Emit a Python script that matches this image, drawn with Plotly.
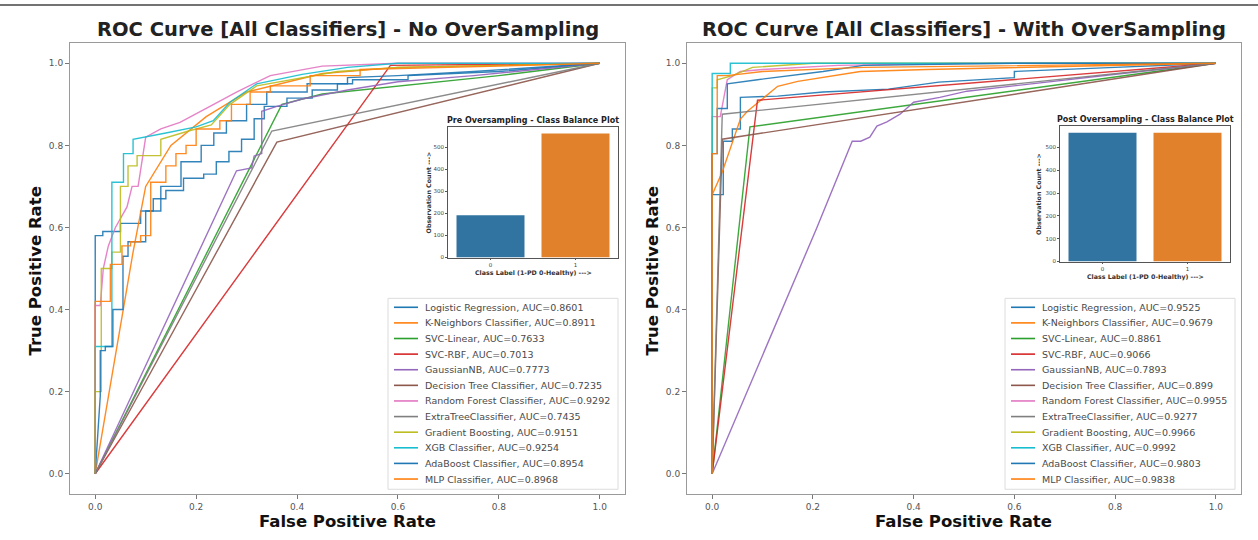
import plotly.graph_objects as go

W, H = 1258, 540

# ---------------- data ----------------
classifiers = ["Logistic Regression", "K-Neighbors Classifier", "SVC-Linear", "SVC-RBF",
               "GaussianNB", "Decision Tree Classifier", "Random Forest Classifier",
               "ExtraTreeClassifier", "Gradient Boosting", "XGB Classifier",
               "AdaBoost Classifier", "MLP Classifier"]
auc_no_os = ["0.8601", "0.8911", "0.7633", "0.7013", "0.7773", "0.7235", "0.9292",
             "0.7435", "0.9151", "0.9254", "0.8954", "0.8968"]
auc_with_os = ["0.9525", "0.9679", "0.8861", "0.9066", "0.7893", "0.899", "0.9955",
               "0.9277", "0.9966", "0.9992", "0.9803", "0.9838"]

# ROC curves - No OverSampling
lr_no_fpr = [0, 0, 0.015, 0.015, 0.05, 0.05, 0.09, 0.09, 0.115, 0.115, 0.14, 0.14, 0.175, 0.175, 0.215, 0.215, 0.24, 0.24, 0.265, 0.265, 0.29, 0.29, 0.315, 0.315, 0.335, 0.335, 0.38, 0.38, 0.43, 0.43, 0.48, 0.48, 0.51, 0.51, 0.62, 0.62, 0.8, 1.0]
lr_no_tpr = [0, 0.58, 0.58, 0.59, 0.59, 0.61, 0.61, 0.64, 0.64, 0.67, 0.67, 0.69, 0.69, 0.72, 0.72, 0.73, 0.73, 0.76, 0.76, 0.785, 0.785, 0.815, 0.815, 0.865, 0.865, 0.895, 0.895, 0.915, 0.915, 0.935, 0.935, 0.95, 0.95, 0.96, 0.96, 0.97, 0.98, 1.0]
knn_no_fpr = [0, 0.075, 0.1, 0.15, 0.22, 0.3, 0.45, 0.6, 1.0]
knn_no_tpr = [0, 0.54, 0.7, 0.8, 0.87, 0.93, 0.975, 0.99, 1.0]
svcl_no_fpr = [0, 0.37, 0.45, 0.6, 0.8, 1.0]
svcl_no_tpr = [0, 0.9, 0.925, 0.945, 0.97, 1.0]
svcr_no_fpr = [0, 0.585, 1.0]
svcr_no_tpr = [0, 0.995, 1.0]
gnb_no_fpr = [0, 0.28, 0.31, 0.315, 0.33, 0.33, 0.36, 0.41, 0.5, 0.6, 0.75, 1.0]
gnb_no_tpr = [0, 0.738, 0.745, 0.774, 0.78, 0.883, 0.895, 0.913, 0.935, 0.955, 0.97, 1.0]
dt_no_fpr = [0, 0.36, 1.0]
dt_no_tpr = [0, 0.808, 1.0]
rf_no_fpr = [0, 0, 0.01, 0.016, 0.026, 0.04, 0.063, 0.073, 0.085, 0.1, 0.13, 0.168, 0.22, 0.28, 0.347, 0.45, 0.6, 1.0]
rf_no_tpr = [0, 0.41, 0.41, 0.5, 0.555, 0.6, 0.65, 0.7, 0.7, 0.82, 0.84, 0.856, 0.89, 0.93, 0.97, 0.993, 1.0, 1.0]
et_no_fpr = [0, 0.35, 1.0]
et_no_tpr = [0, 0.835, 1.0]
gb_no_fpr = [0, 0, 0.012, 0.012, 0.033, 0.033, 0.05, 0.05, 0.065, 0.065, 0.083, 0.083, 0.13, 0.13, 0.185, 0.23, 0.267, 0.32, 0.48, 0.6, 1.0]
gb_no_tpr = [0, 0.2, 0.2, 0.5, 0.5, 0.54, 0.54, 0.7, 0.7, 0.75, 0.75, 0.775, 0.775, 0.815, 0.835, 0.85, 0.9, 0.945, 0.98, 0.99, 1.0]
xgb_no_fpr = [0, 0, 0.033, 0.033, 0.056, 0.056, 0.075, 0.075, 0.14, 0.2, 0.234, 0.267, 0.32, 0.36, 0.41, 0.5, 0.6, 1.0]
xgb_no_tpr = [0, 0.31, 0.31, 0.71, 0.71, 0.78, 0.78, 0.815, 0.83, 0.845, 0.86, 0.905, 0.95, 0.96, 0.973, 0.99, 1.0, 1.0]
ada_no_fpr = [0, 0.01, 0.01, 0.02, 0.02, 0.035, 0.035, 0.055, 0.055, 0.065, 0.065, 0.1, 0.1, 0.13, 0.13, 0.17, 0.17, 0.21, 0.21, 0.235, 0.235, 0.26, 0.26, 0.3, 0.3, 0.34, 0.34, 0.42, 0.42, 0.5, 0.5, 0.6, 0.75, 1.0]
ada_no_tpr = [0, 0.19, 0.3, 0.3, 0.31, 0.31, 0.4, 0.4, 0.53, 0.53, 0.565, 0.565, 0.64, 0.64, 0.7, 0.7, 0.76, 0.76, 0.8, 0.8, 0.83, 0.83, 0.86, 0.86, 0.9, 0.9, 0.93, 0.93, 0.95, 0.95, 0.965, 0.97, 0.98, 1.0]
mlp_no_fpr = [0, 0, 0.03, 0.03, 0.053, 0.053, 0.07, 0.07, 0.09, 0.09, 0.11, 0.11, 0.14, 0.14, 0.16, 0.16, 0.18, 0.18, 0.2, 0.2, 0.247, 0.247, 0.27, 0.27, 0.307, 0.307, 0.347, 0.347, 0.426, 0.426, 0.525, 0.525, 0.7, 1.0]
mlp_no_tpr = [0, 0.42, 0.42, 0.51, 0.51, 0.555, 0.555, 0.565, 0.565, 0.58, 0.58, 0.71, 0.71, 0.75, 0.75, 0.78, 0.78, 0.8, 0.8, 0.84, 0.84, 0.86, 0.86, 0.9, 0.9, 0.93, 0.93, 0.945, 0.945, 0.97, 0.97, 0.985, 0.99, 1.0]

# ROC curves - With OverSampling
lr_os_fpr = [0, 0, 0.022, 0.022, 0.04, 0.04, 0.056, 0.056, 0.13, 0.22, 0.35, 0.45, 0.6, 0.6, 0.8, 1.0]
lr_os_tpr = [0, 0.68, 0.68, 0.81, 0.81, 0.84, 0.84, 0.917, 0.92, 0.93, 0.937, 0.954, 0.965, 0.98, 0.99, 1.0]
knn_os_fpr = [0, 0, 0.02, 0.056, 0.07, 0.13, 0.17, 0.22, 0.294, 0.426, 0.6, 1.0]
knn_os_tpr = [0, 0.68, 0.735, 0.864, 0.883, 0.944, 0.956, 0.966, 0.98, 0.985, 0.99, 1.0]
svcl_os_fpr = [0, 0.075, 1.0]
svcl_os_tpr = [0, 0.845, 1.0]
svcr_os_fpr = [0, 0.09, 1.0]
svcr_os_tpr = [0, 0.91, 1.0]
gnb_os_fpr = [0, 0.207, 0.278, 0.295, 0.313, 0.327, 0.347, 0.373, 0.4, 0.452, 0.506, 0.59, 0.7, 0.85, 1.0]
gnb_os_tpr = [0, 0.597, 0.81, 0.81, 0.82, 0.847, 0.857, 0.876, 0.905, 0.917, 0.932, 0.944, 0.96, 0.98, 1.0]
dt_os_fpr = [0, 0.02, 1.0]
dt_os_tpr = [0, 0.815, 1.0]
rf_os_fpr = [0, 0, 0.016, 0.03, 0.056, 0.1, 0.25, 0.5, 1.0]
rf_os_tpr = [0, 0.87, 0.87, 0.96, 0.98, 0.985, 0.995, 1.0, 1.0]
et_os_fpr = [0, 0.02, 1.0]
et_os_tpr = [0, 0.876, 1.0]
gb_os_fpr = [0, 0, 0.01, 0.01, 0.04, 0.08, 0.2, 1.0]
gb_os_tpr = [0, 0.94, 0.94, 0.96, 0.97, 0.99, 1.0, 1.0]
xgb_os_fpr = [0, 0, 0.036, 0.036, 1.0]
xgb_os_tpr = [0, 0.975, 0.975, 1.0, 1.0]
ada_os_fpr = [0, 0, 0.01, 0.01, 0.03, 0.03, 0.09, 0.155, 0.22, 0.3, 0.6, 1.0]
ada_os_tpr = [0, 0.78, 0.78, 0.89, 0.89, 0.95, 0.96, 0.97, 0.98, 0.995, 1.0, 1.0]
mlp_os_fpr = [0, 0, 0.01, 0.01, 0.03, 0.1, 0.3, 1.0]
mlp_os_tpr = [0, 0.78, 0.78, 0.97, 0.97, 0.98, 0.99, 1.0]

# Class balance (inset bar charts)
class_labels = ["0", "1"]
pre_counts = [192, 564]
post_counts = [564, 564]

tick_vals = [0.0, 0.2, 0.4, 0.6, 0.8, 1.0]
count_ticks = [0, 100, 200, 300, 400, 500]

# ---------------- style ----------------
tab10 = ["#1f77b4", "#ff7f0e", "#2ca02c", "#d62728", "#9467bd", "#8c564b",
         "#e377c2", "#7f7f7f", "#bcbd22", "#17becf"]
bar_colors = ["#3274a1", "#e1812c"]
FONT = "DejaVu Sans"

no_curves = [(lr_no_fpr, lr_no_tpr), (knn_no_fpr, knn_no_tpr), (svcl_no_fpr, svcl_no_tpr),
             (svcr_no_fpr, svcr_no_tpr), (gnb_no_fpr, gnb_no_tpr), (dt_no_fpr, dt_no_tpr),
             (rf_no_fpr, rf_no_tpr), (et_no_fpr, et_no_tpr), (gb_no_fpr, gb_no_tpr),
             (xgb_no_fpr, xgb_no_tpr), (ada_no_fpr, ada_no_tpr), (mlp_no_fpr, mlp_no_tpr)]
os_curves = [(lr_os_fpr, lr_os_tpr), (knn_os_fpr, knn_os_tpr), (svcl_os_fpr, svcl_os_tpr),
             (svcr_os_fpr, svcr_os_tpr), (gnb_os_fpr, gnb_os_tpr), (dt_os_fpr, dt_os_tpr),
             (rf_os_fpr, rf_os_tpr), (et_os_fpr, et_os_tpr), (gb_os_fpr, gb_os_tpr),
             (xgb_os_fpr, xgb_os_tpr), (ada_os_fpr, ada_os_tpr), (mlp_os_fpr, mlp_os_tpr)]


def px_x(p):
    return p / W


def px_y(p):
    return 1 - p / H


fig = go.Figure()

for i, (name, (fx, ty)) in enumerate(zip(classifiers, no_curves)):
    fig.add_trace(go.Scatter(x=fx, y=ty, mode="lines", name=f"{name}, AUC={auc_no_os[i]}",
                             line=dict(color=tab10[i % 10], width=1.4), opacity=0.9,
                             xaxis="x", yaxis="y", showlegend=False))
for i, (name, (fx, ty)) in enumerate(zip(classifiers, os_curves)):
    fig.add_trace(go.Scatter(x=fx, y=ty, mode="lines", name=f"{name}, AUC={auc_with_os[i]}",
                             line=dict(color=tab10[i % 10], width=1.4), opacity=0.9,
                             xaxis="x2", yaxis="y2", showlegend=False))

fig.add_trace(go.Bar(x=class_labels, y=pre_counts, marker=dict(color=bar_colors, line=dict(width=0)),
                     width=0.8, showlegend=False, xaxis="x3", yaxis="y3"))
fig.add_trace(go.Bar(x=class_labels, y=post_counts, marker=dict(color=bar_colors, line=dict(width=0)),
                     width=0.8, showlegend=False, xaxis="x4", yaxis="y4"))

main_axis = dict(range=[-0.05, 1.05], tickvals=tick_vals, tickformat=".1f", showgrid=False,
                 zeroline=False, showline=True, mirror=True, linecolor="#9a9a9a", linewidth=1,
                 ticks="outside", ticklen=4, tickcolor="#777", tickfont=dict(size=9, color="#555", family=FONT))
inset_axis = dict(showgrid=False, zeroline=False, showline=True, mirror=True, linecolor="#555",
                  linewidth=0.8, ticks="outside", ticklen=2, tickcolor="#555",
                  tickfont=dict(size=5.5, color="#444", family=FONT))

L_main = [px_x(70), px_x(625)]
R_main = [px_x(687), px_x(1241)]
Y_main = [px_y(497), px_y(43)]
L_inset_x = [px_x(448), px_x(618)]
R_inset_x = [px_x(1060), px_x(1230)]
L_inset_y = [px_y(259), px_y(128)]
R_inset_y = [px_y(263), px_y(127)]

fig.update_layout(
    width=W, height=H, margin=dict(l=0, r=0, t=0, b=0),
    paper_bgcolor="white", plot_bgcolor="white",
    font=dict(family=FONT),
    showlegend=False,
    xaxis=dict(domain=L_main, anchor="y", **main_axis),
    yaxis=dict(domain=Y_main, anchor="x", **main_axis),
    xaxis2=dict(domain=R_main, anchor="y2", **main_axis),
    yaxis2=dict(domain=Y_main, anchor="x2", **main_axis),
    xaxis3=dict(domain=L_inset_x, anchor="y3", type="category", range=[-0.5, 1.5], **inset_axis),
    yaxis3=dict(domain=L_inset_y, anchor="x3", range=[0, 592], tickvals=count_ticks, **inset_axis),
    xaxis4=dict(domain=R_inset_x, anchor="y4", type="category", range=[-0.5, 1.5], **inset_axis),
    yaxis4=dict(domain=R_inset_y, anchor="x4", range=[0, 592], tickvals=count_ticks, **inset_axis),
)

ann = []
shapes = []
title_font = dict(family=FONT, size=19.5, color="#222")
axis_font = dict(family=FONT, size=16.5, color="#111")
for cx, txt in [((70 + 625) / 2, "ROC Curve [All Classifiers] - No OverSampling"),
                ((687 + 1241) / 2, "ROC Curve [All Classifiers] - With OverSampling")]:
    ann.append(dict(x=px_x(cx), y=px_y(30), xref="paper", yref="paper", text=f"<b>{txt}</b>",
                    showarrow=False, font=title_font, xanchor="center", yanchor="middle"))
    ann.append(dict(x=px_x(cx), y=px_y(524), xref="paper", yref="paper", text="<b>False Positive Rate</b>",
                    showarrow=False, font=axis_font, xanchor="center", yanchor="middle"))
for cx in [35, 652]:
    ann.append(dict(x=px_x(cx), y=px_y(273), xref="paper", yref="paper", text="<b>True Positive Rate</b>",
                    showarrow=False, font=axis_font, textangle=-90, xanchor="center", yanchor="middle"))

# inset labels
small_title = dict(family=FONT, size=8, color="#222")
small_lbl = dict(family=FONT, size=6.3, color="#333")
for (x0, x1), (ty, by), ttl, ylx in [((448, 618), (128, 259), "Pre Oversampling - Class Balance Plot", 428),
                                     ((1060, 1230), (127, 263), "Post Oversampling - Class Balance Plot", 1039)]:
    cx = (x0 + x1) / 2
    ann.append(dict(x=px_x(cx), y=px_y(ty - 7), xref="paper", yref="paper", text=f"<b>{ttl}</b>",
                    showarrow=False, font=small_title, xanchor="center", yanchor="middle"))
    ann.append(dict(x=px_x(cx), y=px_y(by + 16), xref="paper", yref="paper",
                    text="<b>Class Label (1-PD 0-Healthy) ---></b>",
                    showarrow=False, font=small_lbl, xanchor="center", yanchor="middle"))
    ann.append(dict(x=px_x(ylx), y=px_y((ty + by) / 2), xref="paper", yref="paper",
                    text="<b>Observation Count ---></b>", textangle=-90,
                    showarrow=False, font=small_lbl, xanchor="center", yanchor="middle"))

# legends (matplotlib-style compact boxes)
leg_font = dict(family=FONT, size=9.5, color="#4a4a4a")
for (bx0, bx1), aucs in [((388, 618), auc_no_os), ((1005, 1235), auc_with_os)]:
    shapes.append(dict(type="rect", xref="paper", yref="paper", x0=px_x(bx0), x1=px_x(bx1),
                       y0=px_y(492), y1=px_y(300), fillcolor="rgba(255,255,255,0.85)",
                       line=dict(color="#dcdcdc", width=1), layer="above"))
    for k, name in enumerate(classifiers):
        yk = 309 + 15.7 * k
        shapes.append(dict(type="line", xref="paper", yref="paper", x0=px_x(bx0 + 6), x1=px_x(bx0 + 30),
                           y0=px_y(yk), y1=px_y(yk), line=dict(color=tab10[k % 10], width=1.6),
                           layer="above"))
        ann.append(dict(x=px_x(bx0 + 35), y=px_y(yk), xref="paper", yref="paper",
                        text=f"{name}, AUC={aucs[k]}", showarrow=False, font=leg_font,
                        xanchor="left", yanchor="middle"))

shapes.append(dict(type="line", xref="paper", yref="paper", x0=0, x1=1, y0=px_y(5), y1=px_y(5),
                   line=dict(color="#444", width=1.5)))

fig.update_layout(annotations=ann, shapes=shapes)

fig.write_html("out.html")
